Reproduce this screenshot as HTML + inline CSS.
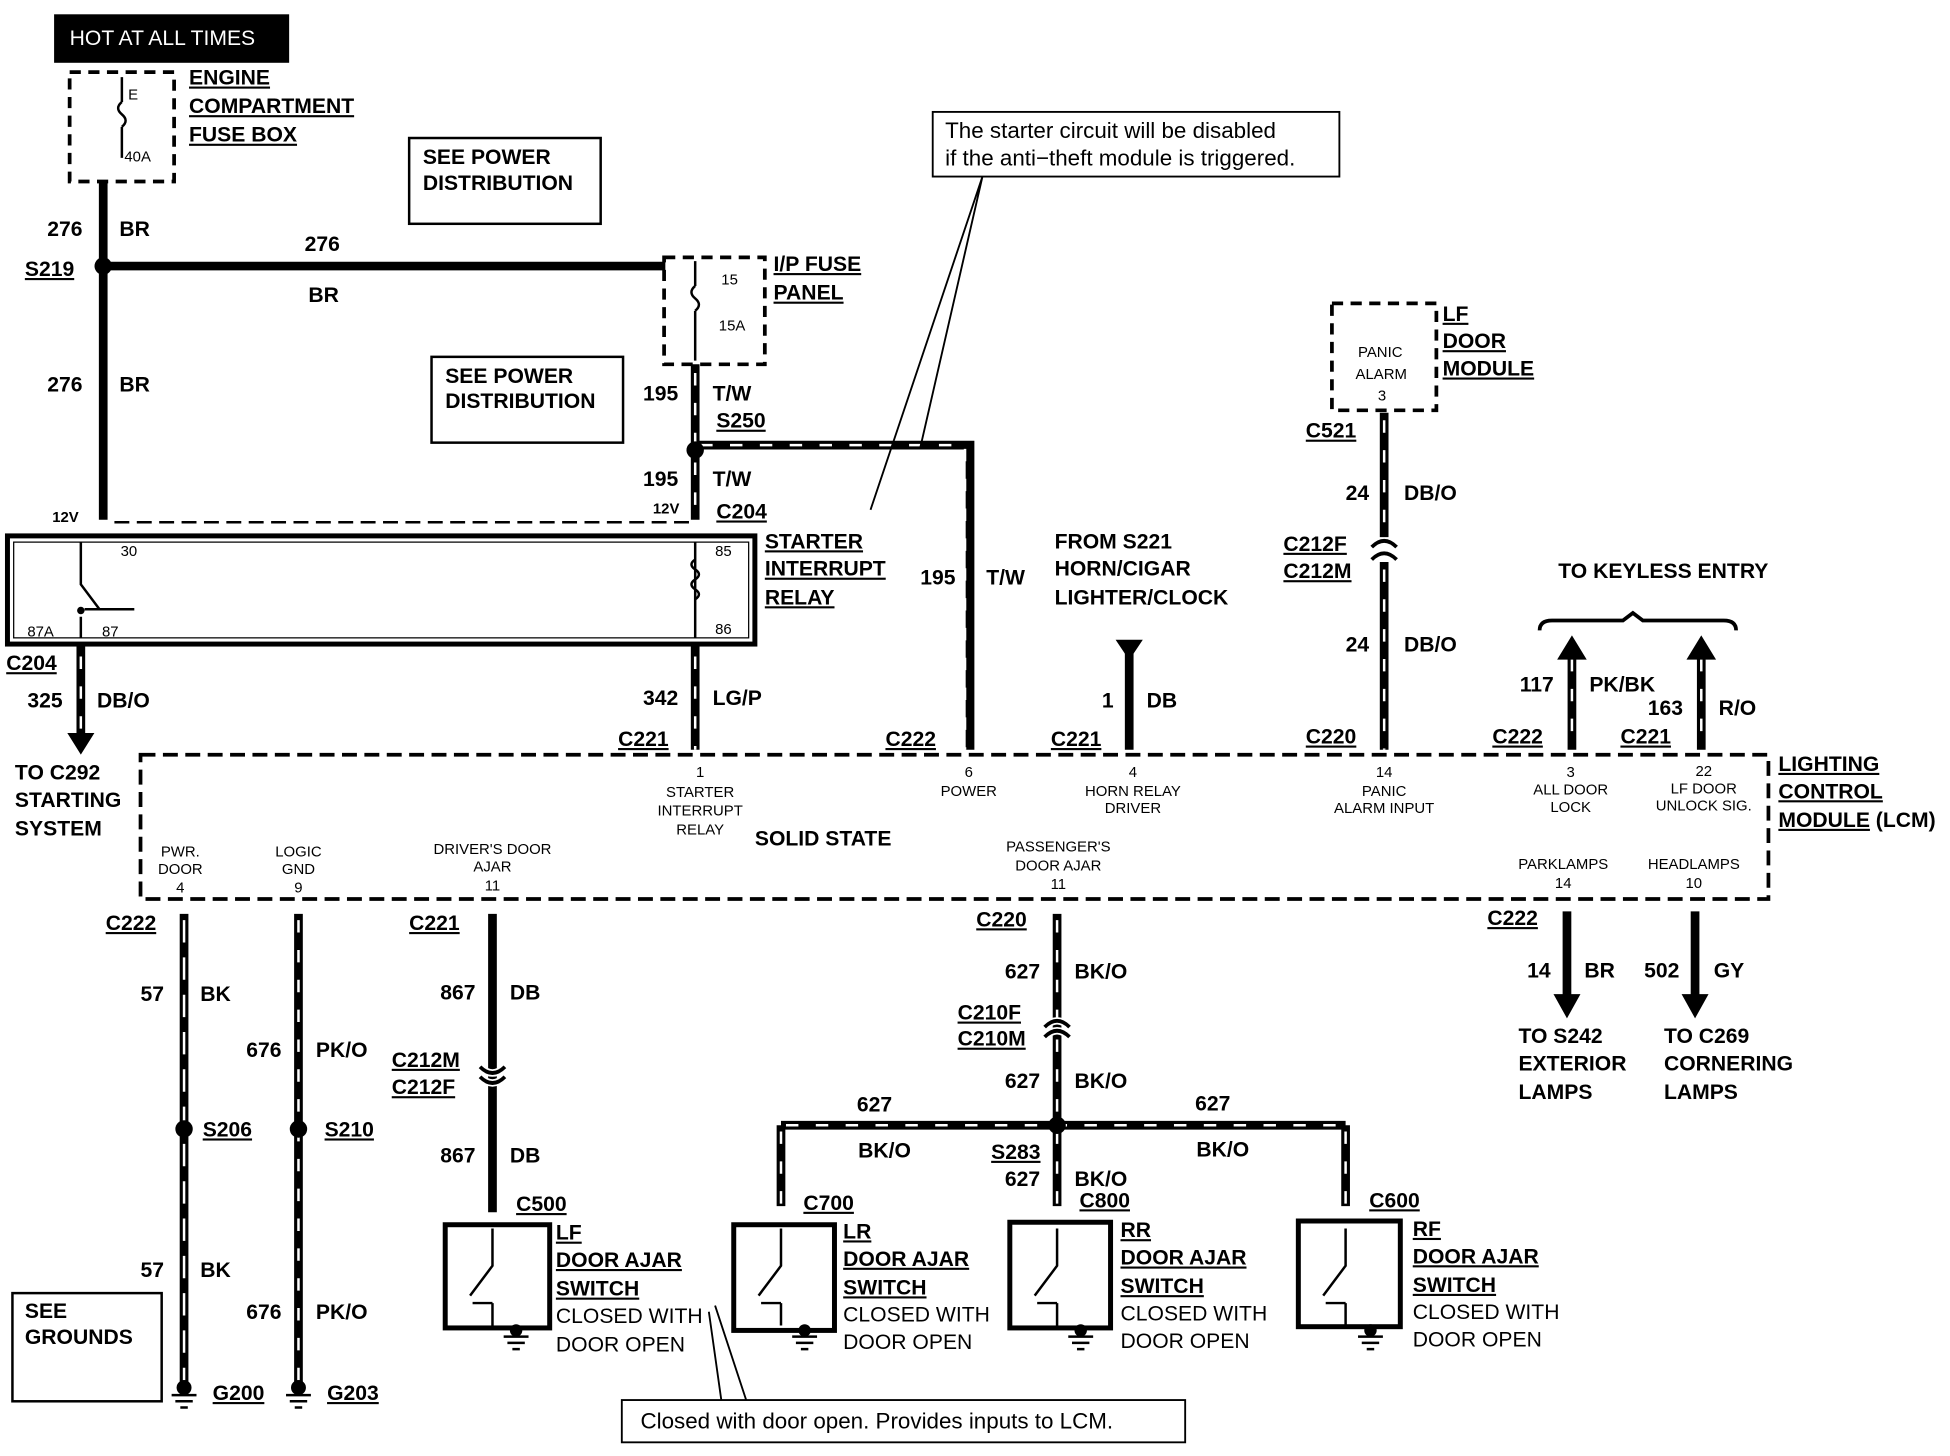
<!DOCTYPE html>
<html><head><meta charset="utf-8"><style>
html,body{margin:0;padding:0;background:#fff;width:1950px;height:1456px;overflow:hidden}
svg{display:block}
text{font-family:"Liberation Sans",Arial,sans-serif;fill:#000}
.b{font-weight:bold;font-size:17px}
.u{text-decoration:underline}
.s{font-size:12px}
.n{font-size:17px}
</style></head><body>
<svg width="1950" height="1456" viewBox="0 0 1568 1171" preserveAspectRatio="none" xmlns="http://www.w3.org/2000/svg">
<g fill="none" stroke="#000">
<!-- top left -->
<rect x="44" y="12" width="188" height="38" fill="#000"/>
<rect x="56" y="58" width="84" height="88" stroke-width="3" stroke-dasharray="9,6"/>
<path d="M98 62v20M98 102v25" stroke-width="2"/>
<path d="M98 82q-6 5 0 10q6 5 0 10" stroke-width="2"/>
<path d="M83 147V418M83 214H535" stroke-width="7"/>
<rect x="329" y="111" width="154" height="69" stroke-width="2"/>
<rect x="347" y="287" width="154" height="69" stroke-width="2"/>
<!-- IP fuse -->
<rect x="534" y="207" width="81" height="86" stroke-width="3" stroke-dasharray="9,6"/>
<path d="M559 210v20M559 250v40" stroke-width="2"/>
<path d="M559 230q-6 5 0 10q6 5 0 10" stroke-width="2"/>
<path d="M559 293V418M559 358H780V603" stroke-width="7"/>
<path d="M559 300V418M563 358H776V603" stroke="#fff" stroke-width="2" stroke-dasharray="10,14"/>
<path d="M92 420H555" stroke-width="2" stroke-dasharray="12,6"/>
<!-- relay -->
<rect x="6" y="431" width="601" height="87" stroke-width="4"/>
<rect x="11" y="436" width="591" height="77" stroke-width="1"/>
<path d="M65 436V470L80 490M65 496V513M68 490h40" stroke-width="2"/>
<path d="M559 436V513" stroke-width="2"/>
<path d="M559 450q-6 4 0 8q6 4 0 8q-6 4 0 8q6 4 0 8" stroke-width="2"/>
<path d="M65 520V595M559 520V603" stroke-width="7"/>
<path d="M65 528V595M559 528V603" stroke="#fff" stroke-width="2" stroke-dasharray="10,14"/>
<path d="M55 590L65 606L75 590Z" fill="#000"/>
<!-- callout -->
<rect x="750" y="90" width="327" height="52" stroke-width="1.5"/>
<path d="M790 142L700 410M790 142L740 360" stroke-width="1.5"/>
<!-- horn -->
<path d="M908 520V603" stroke-width="7"/>
<path d="M898 515H918L908 530Z" fill="#000"/>
<!-- LF door module -->
<rect x="1071" y="244" width="84" height="86" stroke-width="3" stroke-dasharray="9,6"/>
<path d="M1113 332V432M1113 452V603" stroke-width="7"/>
<path d="M1113 338V432M1113 458V603" stroke="#fff" stroke-width="2" stroke-dasharray="10,14"/>
<path d="M1103 440q10-10 20 0M1103 450q10-10 20 0" stroke-width="3"/>
<!-- keyless -->
<path d="M1238 507q0-8 10-8H1305l8-6l8 6H1386q10 0 10 8" stroke-width="3"/>
<path d="M1264 525V603M1368 525V603" stroke-width="7"/>
<path d="M1264 530V600M1368 530V600" stroke="#fff" stroke-width="2" stroke-dasharray="10,14"/>
<path d="M1253 530L1264 512L1275 530ZM1357 530L1368 512L1379 530Z" fill="#000"/>
<!-- LCM -->
<rect x="113" y="607" width="1309" height="116" stroke-width="3" stroke-dasharray="12,6"/>
<!-- below wires -->
<path d="M148 735V1112M240 735V1112M396 735V975M850 735V905M628 905H1082M628 905V970M850 905V970M1082 905V970M1260 733V805M1363 733V805" stroke-width="7"/>
<path d="M148 740V1110" stroke="#fff" stroke-width="2" stroke-dasharray="18,12"/>
<path d="M240 740V1110M850 740V900M632 905H1078M628 910V968M850 910V968M1082 910V968" stroke="#fff" stroke-width="2" stroke-dasharray="10,14"/>
<path d="M1250 800L1260 818L1270 800ZM1353 800L1363 818L1373 800Z" fill="#000"/>
<path d="M386 858q10 10 20 0M386 866q10 10 20 0M840 826q10-10 20 0M840 834q10-10 20 0" stroke="#fff" stroke-width="6"/>
<path d="M386 858q10 10 20 0M386 866q10 10 20 0M840 826q10-10 20 0M840 834q10-10 20 0" stroke-width="3"/>
<!-- switch boxes -->
<rect x="358" y="985" width="84" height="83" stroke-width="4"/>
<rect x="590" y="985" width="81" height="85" stroke-width="4"/>
<rect x="812" y="983" width="81" height="85" stroke-width="4"/>
<rect x="1044" y="982" width="82" height="85" stroke-width="4"/>
<g stroke-width="2">
<path d="M396 988v30l-18 24M396 1048v18M380 1048h16"/>
<path d="M628 988v30l-18 24M628 1048v18M612 1048h16"/>
<path d="M850 988v30l-18 24M850 1048v18M834 1048h16"/>
<path d="M1082 988v30l-18 24M1082 1048v18M1066 1048h16"/>
</g>
<!-- grounds -->
<g stroke-width="2">
<path d="M138 1122h20M141 1127h14M145 1132h6M230 1122h20M233 1127h14M237 1132h6"/>
<path d="M405 1075h20M408 1080h14M412 1085h6M637 1075h20M640 1080h14M644 1085h6M859 1075h20M862 1080h14M866 1085h6M1092 1075h20M1095 1080h14M1099 1085h6"/>
</g>
<rect x="10" y="1040" width="120" height="87" stroke-width="2"/>
<rect x="500" y="1126" width="453" height="34" stroke-width="1.5"/>
<path d="M570 1055L580 1126M575 1050L600 1126" stroke-width="1.5"/>
</g>
<g fill="#000">
<circle cx="83" cy="214" r="7"/><circle cx="559" cy="362" r="7"/>
<circle cx="148" cy="908" r="7"/><circle cx="240" cy="908" r="7"/><circle cx="850" cy="905" r="7"/>
<circle cx="65" cy="491" r="3"/><circle cx="148" cy="1116" r="6"/><circle cx="240" cy="1116" r="6"/>
<circle cx="415" cy="1070" r="5"/><circle cx="647" cy="1070" r="5"/><circle cx="869" cy="1070" r="5"/><circle cx="1102" cy="1070" r="5"/>
</g>
<text x="56" y="36" class="n" style="fill:#fff">HOT AT ALL TIMES</text>
<text x="103" y="80" class="s">E</text><text x="100" y="130" class="s">40A</text>
<text class="b u" x="152" y="68">ENGINE</text><text class="b u" x="152" y="91">COMPARTMENT</text><text class="b u" x="152" y="114">FUSE BOX</text>
<text class="b" x="38" y="190">276</text><text class="b" x="96" y="190">BR</text>
<text class="b u" x="20" y="222">S219</text><text class="b" x="245" y="202">276</text><text class="b" x="248" y="243">BR</text>
<text class="b" x="38" y="315">276</text><text class="b" x="96" y="315">BR</text>
<text class="b" x="340" y="132">SEE POWER</text><text class="b" x="340" y="153">DISTRIBUTION</text>
<text class="b" x="358" y="308">SEE POWER</text><text class="b" x="358" y="328">DISTRIBUTION</text>
<text class="s" x="580" y="229">15</text><text class="s" x="578" y="266">15A</text>
<text class="b u" x="622" y="218">I/P FUSE</text><text class="b u" x="622" y="241">PANEL</text>
<text class="b" x="517" y="322">195</text><text class="b" x="573" y="322">T/W</text><text class="b u" x="576" y="344">S250</text>
<text class="b" x="517" y="391">195</text><text class="b" x="573" y="391">T/W</text>
<text x="42" y="420" style="font-size:12px;font-weight:bold">12V</text><text x="525" y="413" style="font-size:12px;font-weight:bold">12V</text>
<text class="b u" x="576" y="417">C204</text>
<text x="97" y="447" class="s">30</text><text x="575" y="447" class="s">85</text>
<text x="22" y="512" class="s">87A</text><text x="82" y="512" class="s">87</text><text x="575" y="510" class="s">86</text>
<text class="b u" x="615" y="441">STARTER</text><text class="b u" x="615" y="463">INTERRUPT</text><text class="b u" x="615" y="486">RELAY</text>
<text class="b u" x="5" y="539">C204</text><text class="b" x="22" y="569">325</text><text class="b" x="78" y="569">DB/O</text>
<text class="b" x="12" y="627">TO C292</text><text class="b" x="12" y="649">STARTING</text><text class="b" x="12" y="672">SYSTEM</text>
<text class="b" x="517" y="567">342</text><text class="b" x="573" y="567">LG/P</text><text class="b u" x="497" y="600">C221</text>
<text class="b" x="740" y="470">195</text><text class="b" x="793" y="470">T/W</text><text class="b u" x="712" y="600">C222</text>
<text x="760" y="111" style="font-size:18px">The starter circuit will be disabled</text>
<text x="760" y="133" style="font-size:18px">if the anti−theft module is triggered.</text>
<text class="b" x="848" y="441">FROM S221</text><text class="b" x="848" y="463">HORN/CIGAR</text><text class="b" x="848" y="486">LIGHTER/CLOCK</text>
<text class="b" x="886" y="569">1</text><text class="b" x="922" y="569">DB</text><text class="b u" x="845" y="600">C221</text>
<text class="s" x="1092" y="287">PANIC</text><text class="s" x="1090" y="305">ALARM</text><text class="s" x="1108" y="322">3</text>
<text class="b u" x="1160" y="258">LF</text><text class="b u" x="1160" y="280">DOOR</text><text class="b u" x="1160" y="302">MODULE</text>
<text class="b u" x="1050" y="352">C521</text>
<text class="b" x="1082" y="402">24</text><text class="b" x="1129" y="402">DB/O</text>
<text class="b u" x="1032" y="443">C212F</text><text class="b u" x="1032" y="465">C212M</text>
<text class="b" x="1082" y="524">24</text><text class="b" x="1129" y="524">DB/O</text><text class="b u" x="1050" y="598">C220</text>
<text class="b" x="1253" y="465">TO KEYLESS ENTRY</text>
<text class="b" x="1222" y="556">117</text><text class="b" x="1278" y="556">PK/BK</text>
<text class="b" x="1325" y="575">163</text><text class="b" x="1382" y="575">R/O</text>
<text class="b u" x="1200" y="598">C222</text><text class="b u" x="1303" y="598">C221</text>
<text class="b u" x="1430" y="620">LIGHTING</text><text class="b u" x="1430" y="642">CONTROL</text><text class="b" x="1430" y="665"><tspan class="u">MODULE</tspan> (LCM)</text>
<g class="s" text-anchor="middle">
<text x="563" y="625">1</text><text x="563" y="641">STARTER</text><text x="563" y="656">INTERRUPT</text><text x="563" y="671">RELAY</text>
<text x="779" y="625">6</text><text x="779" y="640">POWER</text>
<text x="911" y="625">4</text><text x="911" y="640">HORN RELAY</text><text x="911" y="654">DRIVER</text>
<text x="1113" y="625">14</text><text x="1113" y="640">PANIC</text><text x="1113" y="654">ALARM INPUT</text>
<text x="1263" y="625">3</text><text x="1263" y="639">ALL DOOR</text><text x="1263" y="653">LOCK</text>
<text x="1370" y="624">22</text><text x="1370" y="638">LF DOOR</text><text x="1370" y="652">UNLOCK SIG.</text>
<text x="145" y="689">PWR.</text><text x="145" y="703">DOOR</text><text x="145" y="718">4</text>
<text x="240" y="689">LOGIC</text><text x="240" y="703">GND</text><text x="240" y="718">9</text>
<text x="396" y="687">DRIVER'S DOOR</text><text x="396" y="701">AJAR</text><text x="396" y="716">11</text>
<text x="851" y="685">PASSENGER'S</text><text x="851" y="700">DOOR AJAR</text><text x="851" y="715">11</text>
<text x="1257" y="699">PARKLAMPS</text><text x="1257" y="714">14</text>
<text x="1362" y="699">HEADLAMPS</text><text x="1362" y="714">10</text>
</g>
<text class="b" x="607" y="680">SOLID STATE</text>
<text class="b u" x="85" y="748">C222</text><text class="b u" x="329" y="748">C221</text><text class="b u" x="785" y="745">C220</text><text class="b u" x="1196" y="744">C222</text>
<text class="b" x="113" y="805">57</text><text class="b" x="161" y="805">BK</text>
<text class="b" x="198" y="850">676</text><text class="b" x="254" y="850">PK/O</text>
<text class="b" x="354" y="804">867</text><text class="b" x="410" y="804">DB</text>
<text class="b u" x="315" y="858">C212M</text><text class="b u" x="315" y="880">C212F</text>
<text class="b" x="354" y="935">867</text><text class="b" x="410" y="935">DB</text>
<text class="b u" x="163" y="914">S206</text><text class="b u" x="261" y="914">S210</text>
<text class="b" x="113" y="1027">57</text><text class="b" x="161" y="1027">BK</text>
<text class="b" x="198" y="1061">676</text><text class="b" x="254" y="1061">PK/O</text>
<text class="b u" x="171" y="1126">G200</text><text class="b u" x="263" y="1126">G203</text>
<text class="b" x="20" y="1060">SEE</text><text class="b" x="20" y="1081">GROUNDS</text>
<text class="b" x="808" y="787">627</text><text class="b" x="864" y="787">BK/O</text>
<text class="b u" x="770" y="820">C210F</text><text class="b u" x="770" y="841">C210M</text>
<text class="b" x="808" y="875">627</text><text class="b" x="864" y="875">BK/O</text>
<text class="b" x="689" y="894">627</text><text class="b" x="961" y="893">627</text>
<text class="b" x="690" y="931">BK/O</text><text class="b" x="962" y="930">BK/O</text>
<text class="b u" x="797" y="932">S283</text><text class="b" x="808" y="954">627</text><text class="b" x="864" y="954">BK/O</text>
<text class="b" x="1228" y="786">14</text><text class="b" x="1274" y="786">BR</text>
<text class="b" x="1322" y="786">502</text><text class="b" x="1378" y="786">GY</text>
<text class="b" x="1221" y="839">TO S242</text><text class="b" x="1221" y="861">EXTERIOR</text><text class="b" x="1221" y="884">LAMPS</text>
<text class="b" x="1338" y="839">TO C269</text><text class="b" x="1338" y="861">CORNERING</text><text class="b" x="1338" y="884">LAMPS</text>
<text class="b u" x="415" y="974">C500</text><text class="b u" x="646" y="973">C700</text><text class="b u" x="868" y="971">C800</text><text class="b u" x="1101" y="971">C600</text>
<text class="b u" x="447" y="997">LF</text><text class="b u" x="447" y="1019">DOOR AJAR</text><text class="b u" x="447" y="1042">SWITCH</text>
<text x="447" y="1064" style="font-size:17px">CLOSED WITH</text><text x="447" y="1087" style="font-size:17px">DOOR OPEN</text>
<text class="b u" x="678" y="996">LR</text><text class="b u" x="678" y="1018">DOOR AJAR</text><text class="b u" x="678" y="1041">SWITCH</text>
<text x="678" y="1063" style="font-size:17px">CLOSED WITH</text><text x="678" y="1085" style="font-size:17px">DOOR OPEN</text>
<text class="b u" x="901" y="995">RR</text><text class="b u" x="901" y="1017">DOOR AJAR</text><text class="b u" x="901" y="1040">SWITCH</text>
<text x="901" y="1062" style="font-size:17px">CLOSED WITH</text><text x="901" y="1084" style="font-size:17px">DOOR OPEN</text>
<text class="b u" x="1136" y="994">RF</text><text class="b u" x="1136" y="1016">DOOR AJAR</text><text class="b u" x="1136" y="1039">SWITCH</text>
<text x="1136" y="1061" style="font-size:17px">CLOSED WITH</text><text x="1136" y="1083" style="font-size:17px">DOOR OPEN</text>
<text x="515" y="1149" style="font-size:18px">Closed with door open.  Provides inputs to LCM.</text>
</svg>
</body></html>
